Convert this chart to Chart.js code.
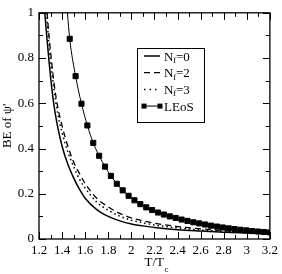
<!DOCTYPE html>
<html>
<head>
<meta charset="utf-8">
<script src="https://cdn.jsdelivr.net/npm/chart.js@4.4.0/dist/chart.umd.min.js"></script>
<style>
  html, body { margin: 0; padding: 0; background: #fff; }
</style>
</head>
<body>
<canvas id="chart" width="282" height="274"></canvas>
<script>
// Nf = 0 (solid)
const nf0T  = [1.25, 1.27, 1.29, 1.31, 1.33, 1.36, 1.40, 1.45, 1.50, 1.55, 1.60, 1.70, 1.80, 1.90, 2.00, 2.10, 2.20, 2.40, 2.60, 2.80, 3.00, 3.20];
const nf0BE = [1.00, 0.88, 0.77, 0.67, 0.59, 0.50, 0.41, 0.33, 0.27, 0.22, 0.18, 0.13, 0.10, 0.08, 0.066, 0.058, 0.051, 0.041, 0.035, 0.030, 0.026, 0.023];

// Nf = 2 (dashed)
const nf2T  = [1.27, 1.29, 1.31, 1.33, 1.36, 1.40, 1.45, 1.50, 1.55, 1.60, 1.70, 1.80, 1.90, 2.00, 2.10, 2.20, 2.40, 2.60, 2.80, 3.00, 3.20];
const nf2BE = [1.00, 0.88, 0.78, 0.69, 0.59, 0.50, 0.41, 0.34, 0.29, 0.245, 0.18, 0.142, 0.113, 0.093, 0.08, 0.07, 0.055, 0.045, 0.037, 0.031, 0.027];

// Nf = 3 (dotted)
const nf3T  = [1.265, 1.28, 1.30, 1.33, 1.36, 1.40, 1.45, 1.50, 1.55, 1.60, 1.70, 1.80, 1.90, 2.00, 2.10, 2.20, 2.40, 2.60, 2.80, 3.00, 3.20];
const nf3BE = [1.00, 0.90, 0.79, 0.66, 0.56, 0.47, 0.385, 0.32, 0.265, 0.225, 0.163, 0.127, 0.101, 0.083, 0.072, 0.062, 0.049, 0.040, 0.033, 0.028, 0.025];

// LEoS (squares joined by a thin line); first entry is where the line leaves the top
const leosT  = [1.446, 1.466, 1.517, 1.568, 1.619, 1.670, 1.721, 1.772, 1.823, 1.874, 1.925, 1.976, 2.027, 2.078, 2.129, 2.180,
                2.231, 2.282, 2.333, 2.384, 2.435, 2.486, 2.537, 2.588, 2.639, 2.690, 2.741, 2.792, 2.843, 2.894,
                2.945, 2.996, 3.047, 3.098, 3.149, 3.200];
const leosBE = [1.00, 0.885, 0.72, 0.598, 0.502, 0.425, 0.368, 0.32, 0.279, 0.244, 0.215, 0.191, 0.171, 0.154, 0.14, 0.128,
                0.117, 0.108, 0.10, 0.093, 0.086, 0.080, 0.074, 0.069, 0.064, 0.059, 0.055, 0.051, 0.047, 0.044,
                0.041, 0.038, 0.035, 0.033, 0.031, 0.029];

const xMin = 1.2, xMax = 3.2, yMin = 0, yMax = 1;
const serif = "'Liberation Serif', 'DejaVu Serif', serif";

const pts = (xs, ys) => xs.map((x, i) => ({ x: x, y: ys[i] }));

// inward ticks on all four sides plus the frame
const frameTicks = {
    id: "frameTicks",
    afterDatasetsDraw(chart) {
        const { ctx, chartArea: a, scales: { x, y } } = chart;
        ctx.save();
        ctx.strokeStyle = "#000";
        ctx.lineWidth = 1;
        ctx.beginPath();
        for (let i = 0; i <= 20; i++) {
            const v = xMin + i * 0.1;
            const px = Math.round(x.getPixelForValue(v)) + 0.5;
            const len = i % 2 === 0 ? 7 : 4;
            ctx.moveTo(px, a.bottom); ctx.lineTo(px, a.bottom - len);
            ctx.moveTo(px, a.top); ctx.lineTo(px, a.top + len);
        }
        for (let i = 0; i <= 10; i++) {
            const v = yMin + i * 0.1;
            const py = Math.round(y.getPixelForValue(v)) + 0.5;
            const len = i % 2 === 0 ? 7 : 4;
            ctx.moveTo(a.left, py); ctx.lineTo(a.left + len, py);
            ctx.moveTo(a.right, py); ctx.lineTo(a.right - len, py);
        }
        ctx.stroke();
        ctx.lineWidth = 1.3;
        ctx.strokeRect(a.left, a.top, a.right - a.left, a.bottom - a.top);
        ctx.restore();
    },
    afterDraw(chart) {
        const { ctx, chartArea: a } = chart;
        ctx.save();
        ctx.fillStyle = "#000";
        ctx.textBaseline = "alphabetic";

        // axis titles
        ctx.font = "13px " + serif;
        ctx.textAlign = "left";
        const cx = (a.left + a.right) / 2;
        ctx.fillText("T/T", cx - 10, 266);
        ctx.font = "9px " + serif;
        ctx.fillText("c", cx + 10, 272);

        ctx.save();
        ctx.translate(11, (a.top + a.bottom) / 2);
        ctx.rotate(-Math.PI / 2);
        ctx.font = "13px " + serif;
        ctx.textAlign = "center";
        ctx.fillText("BE of \u03c8'", 0, 0);
        ctx.restore();

        // legend
        const bx = 137.5, by = 48.5, bw = 67, bh = 74;
        ctx.fillStyle = "#fff";
        ctx.fillRect(bx, by, bw, bh);
        ctx.strokeStyle = "#000";
        ctx.lineWidth = 1;
        ctx.strokeRect(bx, by, bw, bh);

        const rows = [
            { label: "=0", dash: [], w: 1.5 },
            { label: "=2", dash: [6, 4], w: 1.3 },
            { label: "=3", dash: [1.5, 4], w: 1.5 },
            { label: "LEoS", dash: [], w: 1, marker: true }
        ];
        rows.forEach((r, i) => {
            const yy = 56 + i * 16.7;
            ctx.strokeStyle = "#000";
            ctx.lineWidth = r.w;
            ctx.setLineDash(r.dash);
            ctx.beginPath();
            ctx.moveTo(144, yy); ctx.lineTo(160, yy);
            ctx.stroke();
            ctx.setLineDash([]);
            ctx.fillStyle = "#000";
            if (r.marker) {
                ctx.fillRect(141.5, yy - 2.5, 5, 5);
                ctx.fillRect(157.5, yy - 2.5, 5, 5);
                ctx.font = "13px " + serif;
                ctx.textAlign = "left";
                ctx.fillText(r.label, 164, yy + 4.5);
            } else {
                ctx.font = "13px " + serif;
                ctx.textAlign = "left";
                ctx.fillText("N", 164, yy + 4.5);
                ctx.font = "9px " + serif;
                ctx.fillText("f", 173, yy + 7);
                ctx.font = "13px " + serif;
                ctx.fillText(r.label, 176, yy + 4.5);
            }
        });
        ctx.restore();
    }
};

new Chart(document.getElementById("chart"), {
    type: "line",
    data: {
        datasets: [
            {
                label: "Nf=0",
                data: pts(nf0T, nf0BE),
                borderColor: "#000",
                borderWidth: 1.5,
                pointRadius: 0,
                cubicInterpolationMode: "monotone",
            },
            {
                label: "Nf=2",
                data: pts(nf2T, nf2BE),
                borderColor: "#000",
                borderWidth: 1.3,
                borderDash: [6, 4],
                pointRadius: 0,
                cubicInterpolationMode: "monotone",
            },
            {
                label: "Nf=3",
                data: pts(nf3T, nf3BE),
                borderColor: "#000",
                borderWidth: 1.5,
                borderDash: [1.5, 3],
                pointRadius: 0,
                cubicInterpolationMode: "monotone",
            },
            {
                label: "LEoS",
                data: pts(leosT, leosBE),
                borderColor: "#000",
                backgroundColor: "#000",
                borderWidth: 1,
                pointStyle: "rect",
                pointRadius: (c) => (c.dataIndex === 0 ? 0 : 3.6),
                pointBorderWidth: 1,
                cubicInterpolationMode: "monotone",
            },
        ],
    },
    options: {
        responsive: false,
        animation: false,
        layout: { padding: { left: 0, right: 10, top: 5, bottom: 0 } },
        plugins: {
            legend: { display: false },
            tooltip: { enabled: false },
        },
        scales: {
            x: {
                type: "linear",
                min: xMin,
                max: xMax,
                grid: { display: false, drawTicks: false },
                border: { display: false },
                ticks: {
                    stepSize: 0.2,
                    padding: 4,
                    color: "#000",
                    maxRotation: 0,
                    autoSkip: false,
                    font: { family: serif, size: 13 },
                    callback: (v) => String(+v.toFixed(1)),
                },
                afterFit: (s) => { s.height = 35; },
            },
            y: {
                type: "linear",
                min: yMin,
                max: yMax,
                grid: { display: false, drawTicks: false },
                border: { display: false },
                ticks: {
                    stepSize: 0.2,
                    padding: 5,
                    color: "#000",
                    font: { family: serif, size: 13 },
                    callback: (v) => String(+v.toFixed(1)),
                },
                afterFit: (s) => { s.width = 39; },
            },
        },
    },
    plugins: [frameTicks],
});
</script>
</body>
</html>
